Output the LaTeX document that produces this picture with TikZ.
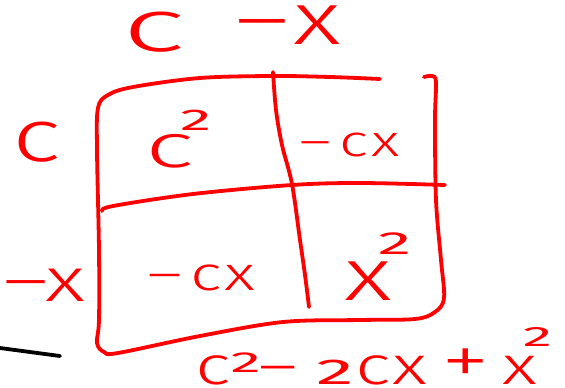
\documentclass[tikz,border=0pt]{standalone}
\usepackage{fontspec}
\usepackage{graphicx}
\IfFontExistsTF{Fira Sans Light}
  {\newfontfamily\handfont[FakeStretch=1.4]{Fira Sans Light}}
  {\newfontfamily\handfont[FakeStretch=1.4]{Fira Sans}}
\newfontfamily\digitfont[FakeStretch=1.4]{Fira Sans}
\usepackage{tikz}
\usetikzlibrary{positioning}
\definecolor{ink}{RGB}{255, 0, 0}
\definecolor{blackink}{RGB}{0, 0, 0}
% hand written 2: #1 = lift, #2 = size
\newcommand{\handtwo}[2]{\raisebox{#1}{\digitfont\fontsize{#2}{#2}\selectfont\scalebox{1.5}[1]{2}}}
\tikzset{
  font=\handfont,
  stroke/.style={draw=ink, line width=3.8pt, line cap=round, line join=round},
  blackstroke/.style={stroke, draw=blackink},
  term/.style={text=ink, inner sep=0pt, anchor=base west},
  bigterm/.style={term, font=\handfont\fontsize{74}{74}\selectfont},
  midterm/.style={term, font=\handfont\fontsize{62}{62}\selectfont},
  smallterm/.style={term, font=\handfont\fontsize{48}{48}\selectfont},
  sumterm/.style={term, font=\handfont\fontsize{54}{54}\selectfont}
}

\begin{document}
\begin{tikzpicture}[x=1pt, y=-1pt]
  \useasboundingbox (0,0) rectangle (565,388);

  % Factors along the top and the left side
  \node[bigterm] (topc) at (122,51) {\scalebox{1.3}[1]{c}};
  \node[bigterm] (topx) at (235,44) {–\hspace{4pt}x};
  \node[bigterm] (leftc) at (12,161) {c};
  \node[midterm] (leftx) at (3,301) {–x};

  % Outer frame (hand drawn)
  \draw[stroke] plot[smooth, tension=0.55] coordinates {
    (380,79) (330,77) (273,76) (200,78) (133,87) (108,95) (98,108)
    (97,150) (99,250) (99,320) (97,343) (104,352) (118,353)
    (200,336) (283,322) (360,320) (415,319) (435,312) (444,298)
    (441,260) (436,200) (435,120) (436,82) (432,76) (424,77)};

  % Dividing lines of the table
  \draw[stroke] plot[smooth, tension=0.55] coordinates {
    (273,72) (276,110) (282,145) (292,184) (300,240) (305,275) (309,307)};
  \draw[stroke] plot[smooth, tension=0.55] coordinates {
    (102,211) (113,206) (193,194) (292,185) (360,183) (445,185)};

  % Products in the four cells
  \node[midterm] (cellcc) at (145,167) {\scalebox{1.2}[1]{c}\kern-14pt\handtwo{37pt}{30}};
  \node[smallterm, font=\handfont\fontsize{44}{44}\selectfont] (cellcx) at (299,156) {–\hspace{8pt}c\hspace{3pt}x};
  \node[smallterm] (cellxc) at (147,290) {–\hspace{8pt}c\hspace{3pt}x};
  \node[bigterm] (cellxx) at (344,300) {x\kern-14pt\handtwo{46pt}{32}};

  % Sum of the products
  \node[sumterm] (result) at (195,384) {c\handtwo{12pt}{29}\hspace{-2pt}–\hspace{18pt}\handtwo{0pt}{36}\hspace{2pt}c\hspace{2pt}x\hspace{14pt}\scalebox{1.3}{+}\hspace{12pt}x\kern-14pt\handtwo{38pt}{28}};

  % Black stroke in the lower left corner
  \coordinate (markstart) at (0,348);
  \coordinate (markend) at (60,356);
  \draw[blackstroke] (markstart) -- (markend);
\end{tikzpicture}
\end{document}
